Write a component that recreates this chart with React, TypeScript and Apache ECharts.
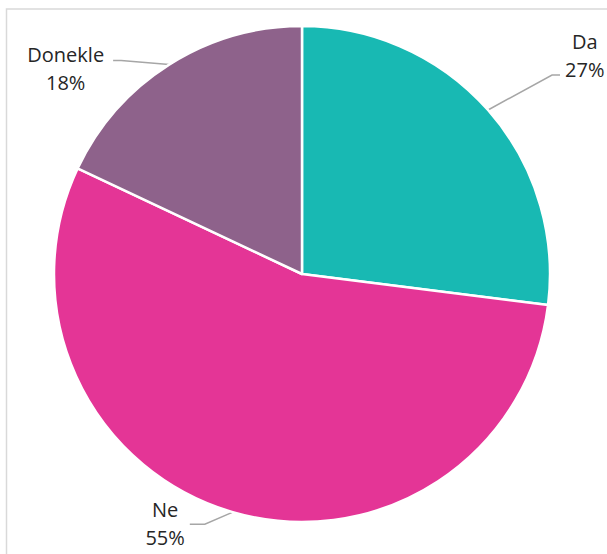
import React, { useEffect, useRef } from "react";
import * as echarts from "echarts";

const categories = ["Da", "Ne", "Donekle"];
const values = [27, 55, 18];
const colors = ["#18B9B3", "#E43596", "#8E628B"];

// label-line shape per slice: bend offset from the slice edge, horizontal tail,
// text gap and vertical offset of the text block from the line end
const labelGuides = [
  { bx: 64, by: -35, tail: 8, gap: 5, dy: -19.5 },
  { bx: -28, by: 12, tail: -15, gap: 5, dy: -1 },
  { bx: -48, by: -4, tail: -8, gap: 9, dy: 8 },
];

export default function App() {
  const ref = useRef<HTMLDivElement>(null);
  useEffect(() => {
    if (!ref.current) return;
    const chart = echarts.init(ref.current, null, { renderer: "svg" });
    chart.setOption({
      animation: false,
      backgroundColor: "#ffffff",
      graphic: [
        {
          type: "rect",
          shape: { x: 6.5, y: 9, width: 640, height: 600 },
          style: { fill: "none", stroke: "#D9D9D9", lineWidth: 1.5 },
          silent: true,
          z: -1,
        },
      ],
      series: [
        {
          type: "pie",
          center: [302, 274],
          radius: [0, 248],
          startAngle: 90,
          clockwise: true,
          itemStyle: { borderColor: "#ffffff", borderWidth: 2.5 },
          label: {
            show: true,
            position: "outside",
            formatter: (p: any) => `${p.name}\n${p.value}%`,
            fontFamily: "Open Sans",
            fontSize: 20,
            lineHeight: 28,
            color: "#262626",
          },
          labelLine: {
            show: true,
            length: 20,
            length2: 20,
            smooth: false,
            lineStyle: { color: "#A6A6A6", width: 1.5 },
          },
          labelLayout: (params: any) => {
            const g = labelGuides[params.dataIndex];
            const pts = params.labelLinePoints;
            const r = params.labelRect;
            if (!pts || !g) return {};
            const s = pts[0];
            const bend = [s[0] + g.bx, s[1] + g.by];
            const end = [bend[0] + g.tail, bend[1]];
            const dir = g.tail >= 0 ? 1 : -1;
            return {
              align: "center",
              verticalAlign: "middle",
              x: end[0] + dir * (g.gap + r.width / 2),
              y: end[1] + g.dy,
              labelLinePoints: [s, bend, end],
            };
          },
          data: categories.map((name, i) => ({
            name,
            value: values[i],
            itemStyle: { color: colors[i] },
          })),
        },
      ],
    });
    return () => chart.dispose();
  }, []);
  return (
    <div
      ref={ref}
      style={{ position: "fixed", left: 0, top: 0, width: 607, height: 554 }}
    />
  );
}
